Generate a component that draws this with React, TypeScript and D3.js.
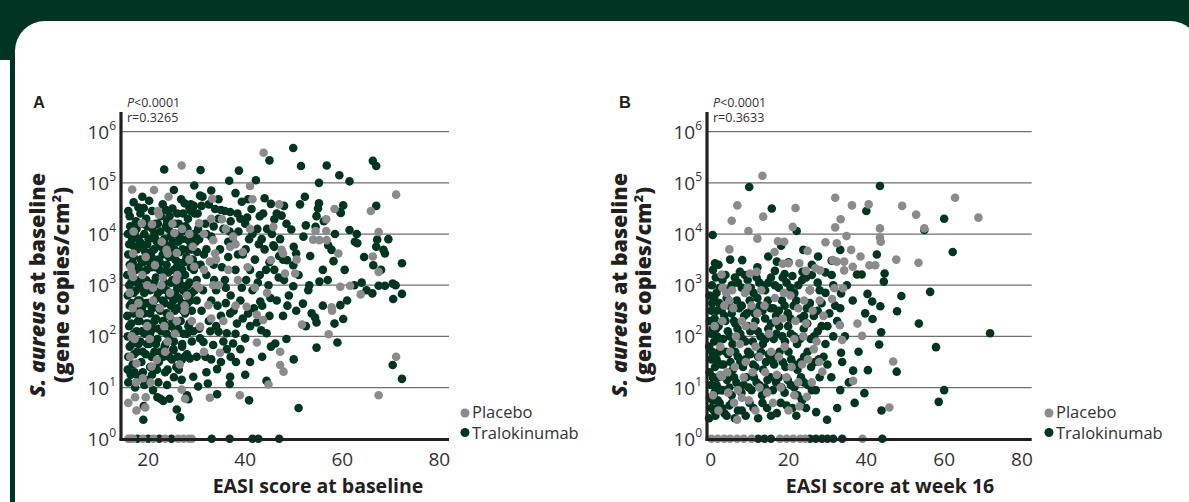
import React from "react";
import * as d3 from "d3";

const W = 1189;
const H = 502;
const DARK = "#00351f";
const GRAY = "#8b8b8d";
const INK = "#231f20";
const FONT = "'Open Sans', Lato, sans-serif";

// y values stored as log10(gene copies/cm²)
const yExponents = [0, 1, 2, 3, 4, 5, 6];
const xTicksA = [20, 40, 60, 80];
const xTicksB = [0, 20, 40, 60, 80];
const legendLabels = ["Placebo", "Tralokinumab"];

// Panel A: EASI at baseline vs log10 S. aureus at baseline
const aTralokinumab: [number, number][] = [
  [49.9,5.68],[45.0,5.44],[51.5,5.33],[56.8,5.34],[59.4,5.15],[61.5,5.03],[66.3,5.43],[67.0,5.33],[23.3,5.26],[30.8,5.25],[38.7,5.24],[36.7,5.04],[42.2,5.05],[55.2,5.0],[25.3,4.86],[18.8,4.73],[30.7,4.75],[31.2,4.73],[34.5,4.68],[39.3,4.63],[40.6,4.68],[52.3,4.73],[51.3,4.58],[55.2,4.60],[60.2,4.56],[67.0,4.55],[45.3,4.59],[19.1,4.51],[23.7,4.47],[28.8,4.58],[28.5,4.51],[29.6,4.40],[32.5,4.58],[33.8,4.49],[35.0,4.47],[36.9,4.43],[38.4,4.40],[41.3,4.49],[40.4,4.32],[43.7,4.40],[46.0,4.29],[47.5,4.36],[54.7,4.35],[56.2,4.25],[59.6,4.43],[61.5,4.08],[52.5,4.17],[54.5,4.14],[49.5,4.09],[67.2,3.89],[67.0,3.75],[68.5,3.69],[68.8,3.62],[72.3,3.43],[66.4,3.39],[62.6,3.85],[63.1,3.82],[59.7,4.41],[57.1,3.78],[57.8,3.69],[58.2,3.47],[53.4,3.57],[50.5,3.62],[49.9,3.39],[48.6,3.49],[47.0,3.57],[45.8,3.78],
  [19.0,0.37],[26.6,0.42],[25.9,0.57],[19.1,0.64],[21.9,0.81],[22.5,0.78],[23.1,0.74],[24.4,0.78],[28.3,0.77],[28.0,0.85],[34.2,0.87],[40.8,0.75],[51.0,0.60],[17.3,1.0],[22.1,1.10],[23.9,1.05],[26.9,1.15],[29.3,1.21],[30.3,1.02],[32.3,1.08],[36.9,1.21],[36.8,1.07],[44.4,1.13],[34.2,1.36],[38.1,1.50],[40.0,1.96],[54.7,1.78],[59.0,1.88],[58.4,2.25],[60.2,2.34],[59.6,2.61],[53.7,2.45],[54.4,2.37],[54.7,2.27],[51.9,2.64],[70.4,1.44],[72.3,1.17],[70.5,2.73],[72.3,2.83],[70.4,3.03],[67.5,2.99],[68.8,2.99],[66.2,2.84],[64.0,3.05],[53.2,3.0],[55.3,3.07],[49.9,2.98],[46.2,1.86],[45.3,1.80],[44.4,2.06],[43.3,2.12],[42.4,2.27],[37.5,1.86],[36.2,2.06],[34.5,2.09],[33.4,1.83],[38.3,2.25],[40.6,2.45],[43.1,2.68],[36.9,2.45],[31.4,1.89],[30.7,1.96],[28.6,1.57],[25.2,1.73],[26.9,1.54],
  [30.5,3.9],[31.5,3.6],[32.0,3.2],[33.0,3.95],[33.5,3.4],[34.0,2.9],[34.8,3.7],[35.5,4.1],[35.8,3.1],[36.5,3.55],[37.0,2.8],[37.5,3.85],[38.0,3.3],[38.6,4.05],[39.0,2.7],[39.5,3.6],[40.2,3.1],[40.8,3.9],[41.5,2.9],[42.0,3.5],[42.5,4.1],[43.0,3.2],[43.5,2.6],[44.0,3.7],[44.8,3.0],[45.5,4.0],[46.0,3.3],[46.5,2.7],[47.2,3.9],[48.0,3.1],[48.5,4.2],[49.0,2.8],[50.0,3.75],[51.0,3.2],[52.0,3.95],[53.0,2.9],[31.0,2.5],[32.5,2.3],[33.0,2.7],[35.0,2.4],[36.0,2.65],[39.5,2.35],[41.0,2.2],[34.5,4.3],[31.8,4.2],[37.0,4.25],[40.0,4.2],[42.8,3.8],[45.0,3.45],[47.8,2.4],[50.5,2.5],[52.5,2.2],[56.0,2.6],[57.0,3.1],[60.5,3.3],[61.0,2.7],[62.5,3.0],[63.0,4.0],[65.0,2.9],[68.0,3.3],[69.5,3.9],[71.0,3.0],[64.5,3.55],[58.5,4.0],[56.0,3.3],[55.0,4.5],[48.0,4.55],[44.0,4.7],[38.0,4.8],[33.0,4.85],[29.5,4.95],[27.5,4.6],[26.0,4.4],[43.5,1.6],[41.0,1.5],[39.0,1.75],[37.0,1.6],[35.5,1.9],[33.0,1.55],[32.0,1.3],[30.0,1.6],[29.0,1.9],[40.0,1.25],[45.0,2.4],[48.5,1.95],[50.0,1.55],
  [30.8,3.4],[31.3,2.9],[32.0,3.7],[32.8,2.1],[33.6,3.1],[34.3,2.6],[35.2,3.35],[36.0,2.95],[36.8,4.05],[37.6,2.5],[38.5,3.6],[39.3,2.95],[40.1,3.7],[41.0,3.3],[41.8,2.55],[42.6,3.05],[43.4,3.9],[44.3,3.3],[45.2,2.75],[46.0,3.75],[46.9,3.15],[47.8,3.5],[48.7,2.6],[30.5,2.15],[31.8,1.6],[34.0,2.2],[35.0,1.5],[36.2,1.75],[38.0,2.05],[30.2,4.4],[31.0,4.55],[32.0,4.0],[33.5,4.15],[35.8,4.45],[36.5,3.85],[39.0,4.3],[41.5,4.0],[43.0,4.35],[44.5,4.1],[46.5,4.4],
  [16.2,4.35],[17.5,4.25],[18.4,4.4],[19.6,4.3],[20.8,4.45],[21.5,4.2],[22.6,4.35],[23.9,4.25],[25.0,4.5],[26.3,4.2],[27.2,4.4],[28.2,4.3],[29.4,4.55],[17.0,4.62],
  [15.9,4.45],[18.0,4.52],[20.2,4.65],[23.0,4.58],[24.4,4.35],[26.8,4.68],[28.8,4.45],
  [15.8,4.0],[16.7,3.9],[17.6,4.1],[18.3,3.85],[19.2,4.0],[20.1,3.9],[20.9,4.1],[21.8,3.85],[22.5,4.05],[23.3,3.9],[24.2,4.1],[25.1,3.85],[25.9,4.0],[26.8,3.9],[27.7,4.15],[28.6,3.85],[29.5,4.0],[22.0,4.2],
  [16.3,4.15],[17.2,4.0],[18.9,4.2],[19.8,4.15],[21.3,4.0],[23.7,4.15],[24.6,3.95],[25.5,4.2],[27.0,4.05],[28.1,4.1],[29.0,3.95],[30.3,4.1],
  [15.9,3.6],[16.8,3.45],[17.7,3.7],[18.5,3.5],[19.4,3.65],[20.3,3.45],[21.2,3.7],[22.1,3.5],[23.0,3.6],[23.8,3.4],[24.7,3.75],[25.6,3.5],[26.5,3.65],[27.4,3.45],[28.3,3.7],[29.2,3.5],[30.1,3.65],
  [16.1,3.8],[17.1,3.75],[18.0,3.9],[18.9,3.75],[19.8,3.8],[20.6,3.65],[21.5,3.9],[22.6,3.75],[23.5,3.8],[24.4,3.6],[25.4,3.7],[26.2,3.85],[27.1,3.7],[28.0,3.9],[28.9,3.7],[29.8,3.85],
  [15.7,3.2],[16.5,3.05],[17.4,3.3],[18.2,3.1],[19.0,3.25],[19.9,3.05],[20.7,3.35],[21.6,3.15],[22.4,3.3],[23.3,3.05],[24.1,3.25],[25.0,3.1],[25.9,3.35],[26.8,3.0],[27.6,3.2],[28.5,3.05],[29.4,3.3],
  [16.2,3.4],[17.0,3.55],[18.0,3.35],[18.9,3.45],[19.7,3.3],[20.7,3.55],[21.5,3.35],[22.4,3.45],[23.4,3.25],[24.3,3.55],[25.3,3.3],[26.1,3.45],[27.0,3.3],[27.9,3.55],[28.8,3.35],[29.8,3.4],
  [15.8,2.8],[16.6,2.65],[17.5,2.9],[18.3,2.7],[19.2,2.85],[20.0,2.65],[20.9,2.95],[21.7,2.75],[22.6,2.9],[23.4,2.65],[24.3,2.8],[25.2,2.7],[26.0,2.95],[26.9,2.65],[27.8,2.85],[28.7,2.7],[29.6,2.9],
  [16.1,3.0],[17.0,2.85],[17.9,3.05],[18.7,2.95],[19.6,3.1],[20.4,2.9],[21.3,3.05],[22.0,2.85],[23.0,3.0],[23.8,2.9],[24.7,3.05],[25.6,2.85],[26.4,3.1],[27.2,2.9],[28.1,3.0],[29.0,2.85],[30.0,3.1],
  [15.7,2.4],[16.5,2.25],[17.4,2.5],[18.2,2.3],[19.1,2.45],[19.9,2.25],[20.8,2.55],[21.6,2.35],[22.5,2.5],[23.3,2.25],[24.2,2.4],[25.0,2.3],[25.9,2.55],[26.7,2.3],[27.6,2.45],[28.5,2.25],
  [16.2,2.6],[17.0,2.45],[17.9,2.7],[18.7,2.55],[19.6,2.65],[20.4,2.45],[21.2,2.7],[22.1,2.55],[23.0,2.7],[23.8,2.45],[24.7,2.6],[25.5,2.5],[26.3,2.75],[27.2,2.5],[28.1,2.65],[29.0,2.5],[30.0,2.7],
  [15.8,2.0],[16.7,1.85],[17.6,2.1],[18.4,1.9],[19.3,2.05],[20.2,1.85],[21.0,2.15],[21.9,1.95],[22.7,2.1],[23.6,1.85],[24.4,2.0],[25.3,1.9],[26.2,2.15],[27.0,1.85],[28.0,2.05],
  [16.1,2.2],[17.0,2.05],[17.9,2.3],[18.7,2.1],[19.6,2.25],[20.4,2.05],[21.3,2.3],[22.1,2.15],[23.0,2.3],[23.8,2.05],[24.7,2.2],[25.6,2.1],[26.5,2.3],[27.3,2.05],[28.3,2.2],[29.3,2.1],
  [15.9,1.6],[16.8,1.45],[17.7,1.7],[18.6,1.5],[19.5,1.65],[20.4,1.4],[21.3,1.7],[22.2,1.5],[23.1,1.6],[24.0,1.35],[24.9,1.55],[25.8,1.4],[16.4,1.25],[18.0,1.2],[20.0,1.15],[27.5,1.6],
  [16.2,1.8],[17.1,1.65],[18.0,1.85],[18.9,1.7],[19.8,1.85],[20.7,1.6],[21.6,1.85],[22.5,1.7],[23.4,1.8],[24.3,1.6],[25.2,1.75],[26.1,1.6],[27.0,1.8],[28.0,1.65],
  [15.8,1.35],[17.2,1.3],[18.9,1.3],[20.8,1.25],[21.8,1.35],[23.5,1.3],[25.3,1.2],[26.3,1.35],[15.9,1.1],[19.2,1.05],[21.0,0.95],
  [17.8,0],[20.0,0],[22.3,0],[24.8,0],[33.1,0],[36.8,0],[41.5,0],[42.7,0],[47.0,0]
];

const aPlacebo: [number, number][] = [
  [43.8,5.59],[26.9,5.34],[16.7,4.87],[21.2,4.86],[24.2,4.73],[71.1,4.77],[41.0,4.94],[41.5,4.68],[33.2,4.69],[47.0,4.58],[58.4,4.49],[65.9,4.45],[56.7,4.29],[54.5,4.06],[56.7,4.06],[54.0,3.89],[55.3,3.88],[56.8,3.88],[67.5,4.04],[66.3,3.56],[59.2,3.62],[67.5,3.26],[45.8,4.14],[41.0,4.10],[35.2,4.29],[33.0,4.30],[30.5,4.21],[25.4,4.02],[22.2,4.38],[20.8,4.19],[18.7,4.21],[23.8,3.69],[24.0,3.62],[25.9,3.63],[33.4,3.88],[37.5,3.95],[36.9,3.75],[33.8,3.62],[32.7,3.46],[47.5,3.69],[47.8,3.62],[50.6,3.50],[45.3,3.49],[16.9,3.62],[16.4,3.36],[16.9,3.16],[21.4,3.39],[29.5,3.36],[48.2,3.23],[50.3,3.23],
  [67.5,0.85],[71.1,1.60],[38.9,0.85],[32.7,0.80],[27.6,0.78],[19.4,0.61],[17.6,0.55],[15.9,0.70],[17.3,0.81],[19.5,0.81],[18.9,1.18],[26.9,0.96],[44.8,1.06],[47.2,1.44],[47.9,1.31],[47.2,1.70],[57.2,2.04],[51.7,2.23],[61.6,2.99],[63.8,2.82],[57.8,2.57],[57.9,2.5],[59.6,2.97],[43.7,2.32],[42.4,2.42],[40.3,2.58],[38.0,2.6],[42.4,1.88],[34.8,1.68],[31.5,1.70],[30.7,2.19],[32.4,2.61],[33.4,3.0],[34.5,3.0],[30.5,2.95],[27.5,2.5],[27.5,2.6],[25.9,2.3],[25.5,2.05],[24.0,1.9],[21.8,1.54],[20.7,1.41],[17.6,1.47],[16.3,1.60],[16.6,2.0],[17.2,1.95],[16.8,2.55],[18.0,2.65],[18.8,3.2],[16.6,3.25],[23.0,3.15],[22.7,3.0],[22.4,2.55],[24.5,2.85],[26.0,3.2],[28.5,3.5],[19.8,2.2],[21.0,2.7],[23.3,2.2],[29.0,2.3],[35.5,2.3],[36.5,3.3],[38.5,3.1],[40.5,3.35],[42.0,2.95],[44.5,2.85],[39.5,3.65],[31.5,3.3],
  [17.0,4.05],[19.5,3.55],[21.0,2.95],[22.8,3.85],[24.5,2.4],[25.8,3.1],[27.0,4.1],[28.0,2.8],[29.2,3.75],[18.3,2.45],[20.3,1.95],[23.5,1.7],[26.5,1.45],[17.5,1.1],[19.8,3.0],[25.0,4.2],[22.0,4.45],[28.5,4.0],[30.0,3.0],[31.5,4.0],[33.0,2.35],[34.0,3.5],[36.0,4.1],[38.0,3.8],[20.5,1.1],[16.2,2.85],
  [15.9,0],[16.4,0],[16.9,0],[18.9,0],[21.1,0],[23.5,0],[26.2,0],[27.3,0],[28.4,0],[29.0,0]
];

// Panel B: EASI at week 16 vs log10 S. aureus at baseline
const bTralokinumab: [number, number][] = [
  [9.9,4.92],[15.7,4.50],[22.1,4.06],[0.5,3.98],[1.1,3.43],[8.1,3.49],[14.8,3.56],[18.1,3.77],[23.8,3.69],[27.6,3.56],[33.3,3.69],[31.1,3.48],[17.0,3.46],[7.5,3.26],[16.5,3.28],[23.6,3.26],[31.1,3.20],[37.6,3.21],[38.8,3.21],[42.7,3.60],[40.0,4.45],[43.5,4.94],[60.0,4.30],[62.2,3.65],[54.9,4.08],[44.7,3.23],[19.0,3.22],[21.0,3.18],
  [71.8,2.06],[57.9,1.79],[60.0,0.95],[58.6,0.72],[53.5,2.25],[56.4,2.87],[47.9,2.49],[49.0,2.79],[44.5,3.07],[40.3,2.83],[41.5,2.68],[43.6,2.59],[39.7,2.45],[41.6,2.34],[43.8,2.08],[43.3,1.84],[47.8,1.31],[40.4,1.34],[39.5,0.89],[43.9,0.55],[36.6,1.33],[33.5,1.68],[33.8,1.50],[33.3,0.95],[29.9,0.37],[27.1,0.52],[33.3,2.55],[33.5,2.84],
  [0.3,3.0],[1.5,2.85],[3.0,3.1],[4.5,2.9],[6.2,3.15],[8.0,2.95],[9.5,3.1],[11.0,2.85],[12.5,3.05],[14.0,2.9],[15.5,3.15],[17.5,2.95],[19.5,3.05],[21.5,2.85],[23.5,3.1],[25.5,2.9],[27.5,3.05],[29.5,2.85],[31.5,3.0],
  [2.3,2.95],[3.8,3.2],[5.4,3.0],[7.0,3.05],[8.8,3.2],[10.3,2.95],[11.8,3.15],[13.3,3.0],[14.8,3.05],[16.5,3.0],[18.5,3.15],[20.5,2.95],[22.5,3.0],[24.5,3.15],
  [0.2,2.5],[1.0,2.35],[2.2,2.65],[3.5,2.4],[4.8,2.6],[6.0,2.3],[7.3,2.55],[8.6,2.4],[10.0,2.7],[11.3,2.45],[12.6,2.6],[14.0,2.35],[15.4,2.55],[16.8,2.4],[18.3,2.7],[19.8,2.45],[21.3,2.6],[23.0,2.35],[24.7,2.55],[26.5,2.4],[28.5,2.65],[30.5,2.45],[32.5,2.3],
  [0.9,2.75],[2.8,2.5],[4.1,2.75],[5.4,2.45],[6.7,2.7],[8.0,2.6],[9.3,2.45],[10.6,2.55],[12.0,2.75],[13.3,2.5],[14.7,2.7],[16.1,2.55],[17.5,2.5],[19.0,2.6],[20.5,2.35],[22.0,2.7],[24.0,2.4],[25.5,2.65],[27.5,2.5],
  [0.1,2.05],[0.9,1.9],[2.0,2.2],[3.2,1.95],[4.4,2.1],[5.6,1.85],[6.9,2.15],[8.2,1.95],[9.5,2.2],[10.8,1.9],[12.1,2.1],[13.4,1.85],[14.8,2.15],[16.2,1.95],[17.6,2.2],[19.1,1.9],[20.6,2.05],[22.2,1.85],[23.9,2.15],[25.7,1.95],[27.5,2.1],[29.5,1.85],[31.5,2.0],
  [1.4,2.15],[2.6,1.95],[3.8,2.3],[5.0,2.0],[6.3,2.25],[7.6,2.05],[8.9,1.9],[10.2,2.1],[11.5,2.3],[12.8,2.0],[14.1,1.95],[15.5,2.25],[16.9,2.05],[18.4,2.0],[19.9,2.2],[21.4,2.0],[23.0,1.95],[24.8,2.25],[26.6,2.0],[28.5,2.2],
  [0.2,1.55],[1.1,1.4],[2.1,1.7],[3.3,1.45],[4.5,1.65],[5.7,1.35],[7.0,1.6],[8.3,1.4],[9.6,1.7],[10.9,1.45],[12.2,1.6],[13.5,1.35],[14.9,1.65],[16.3,1.45],[17.7,1.7],[19.2,1.4],[20.7,1.55],[22.3,1.35],[24.0,1.6],[25.8,1.4],[27.8,1.55],[30.0,1.45],
  [0.7,1.65],[1.6,1.5],[2.7,1.45],[3.9,1.7],[5.1,1.5],[6.3,1.7],[7.6,1.5],[8.9,1.55],[10.2,1.65],[11.5,1.4],[12.9,1.7],[14.2,1.5],[15.6,1.55],[17.0,1.6],[18.5,1.5],[20.0,1.7],[21.5,1.45],[23.1,1.5],[24.9,1.7],[26.8,1.5],
  [0.1,1.05],[1.0,0.9],[2.0,1.2],[3.1,0.95],[4.2,1.15],[5.4,0.85],[6.6,1.1],[7.9,0.9],[9.2,1.2],[10.5,0.95],[11.8,1.1],[13.2,0.85],[14.6,1.15],[16.0,0.95],[17.5,1.2],[19.0,0.9],[20.6,1.05],[22.3,0.85],[24.0,1.1],[26.0,0.95],[28.0,1.2],
  [0.6,1.2],[1.5,1.05],[2.6,0.95],[3.7,1.2],[4.8,1.0],[6.0,1.2],[7.2,1.0],[8.5,1.05],[9.8,1.0],[11.1,1.2],[12.5,1.05],[13.9,1.0],[15.3,1.2],[16.8,1.1],[18.2,1.0],[19.8,1.15],[21.5,1.0],[23.2,1.2],[25.0,1.05],[27.0,0.95],
  [0.2,0.6],[1.2,0.45],[2.3,0.7],[3.5,0.5],[4.8,0.65],[6.2,0.4],[8.0,0.55],[10.0,0.7],[12.2,0.4],[14.5,0.6],[17.0,0.5],[19.5,0.65],[22.0,0.45],[24.5,0.6],
  [0.8,0.55],[1.8,0.75],[2.9,0.6],[4.1,0.45],[5.5,0.7],[7.0,0.55],[9.0,0.45],[11.0,0.6],[13.3,0.7],[15.5,0.45],[18.0,0.7],[21.0,0.6],[23.5,0.75],
  [-0.3,2.8],[-0.2,2.3],[-0.4,1.8],[-0.3,1.3],[-0.2,0.8],[-0.4,0.4],[0.4,2.65],[0.5,2.15],[0.4,1.7],[0.6,1.2],[0.5,0.75],[0.6,3.3],[1.3,3.15],[1.5,2.5],[1.6,2.0],[1.5,1.55],[1.7,1.0],[1.6,0.6],
  [28.0,2.9],[29.0,1.6],[30.0,2.2],[31.0,1.2],[32.0,2.6],[34.5,2.0],[35.5,1.1],[36.5,2.7],[38.0,1.7],[37.0,0.7],[32.5,0.6],[35.0,3.0],[29.5,3.25],[26.0,3.2],
  [2.0,3.4],[5.0,3.5],[12.0,3.35],[20.0,3.45],[26.0,3.4],
  [12.2,0],[13.8,0],[15.5,0],[25.5,0],[27.0,0],[28.6,0],[30.0,0],[31.5,0],[33.8,0],[44.1,0]
];

const bPlacebo: [number, number][] = [
  [13.3,5.14],[6.85,4.56],[5.4,4.26],[4.8,3.70],[9.7,4.06],[12.0,3.91],[13.5,4.34],[21.1,4.14],[21.8,4.51],[32.0,4.71],[36.3,4.56],[40.6,4.58],[33.4,4.29],[32.0,4.13],[34.9,3.96],[32.4,3.82],[29.5,3.84],[24.9,3.67],[17.3,3.86],[18.9,3.85],[16.4,3.65],[43.5,4.11],[43.5,3.93],[43.7,3.85],[49.2,4.55],[52.8,4.38],[54.9,4.11],[62.8,4.71],[68.8,4.32],[47.7,3.50],[53.4,3.44],[40.8,3.39],[42.3,3.39],[38.5,3.56],[36.1,3.69],[34.3,3.46],[34.3,3.29],[36.5,3.36],[32.4,3.46],[31.4,3.49],[22.8,3.43],[18.5,3.42],[20.0,3.43],[2.8,3.21],[10.1,3.23],[11.8,3.26],[26.9,3.33],[28.1,3.29],[24.5,3.28],
  [45.9,0.61],[46.9,1.51],[36.6,1.13],[38.9,2.01],[37.7,2.25],[33.2,2.22],[33.8,1.93],[31.2,2.73],[31.8,2.94],[34.0,2.94],[27.9,1.50],[28.7,1.31],[22.8,0.63],[24.7,0.82],[21.5,0.85],[6.8,0.37],[0.6,0.85],[2.9,1.21],[2.5,1.25],[5.5,2.9],[4.0,2.85],[4.8,2.7],[3.5,2.6],
  [8.0,2.3],[9.0,1.5],[10.5,2.6],[11.5,1.8],[13.0,2.9],[14.0,1.3],[15.0,2.05],[16.5,2.75],[17.5,1.6],[18.5,2.35],[19.5,1.2],[20.5,2.8],[21.5,1.95],[22.5,2.55],[23.5,1.45],[24.5,2.25],[25.5,2.9],[26.5,1.75],[7.0,0.95],[5.0,1.7],[9.8,0.75],[12.5,1.0],[16.0,0.7],[18.0,1.0],[20.0,0.55],[26.0,1.1],[29.0,2.4],[6.5,2.0],[8.8,2.85],[12.0,2.45],
  [1.0,2.2],[2.5,1.8],[3.0,2.95],[4.2,1.3],[5.8,2.55],[6.0,0.7],[7.5,1.85],[8.5,1.2],[9.5,2.95],[10.8,1.3],[11.0,2.2],[12.5,1.6],[13.8,2.6],[14.5,0.9],[15.5,1.7],[16.8,2.3],[17.0,1.25],[18.8,2.85],[19.0,1.8],[20.8,1.4],[21.8,2.3],[22.5,1.1],[23.8,2.0],[24.0,2.7],[25.0,1.55],[26.2,2.5],[27.2,1.9],[28.0,2.7],[2.0,0.55],[4.5,0.9],[8.0,0.8],[11.5,0.55],[3.0,2.3],[6.2,1.4],[9.0,2.2],
  [0.2,0],[1.8,0],[3.5,0],[5.0,0],[6.8,0],[8.5,0],[10.5,0],[17.8,0],[19.5,0],[21.2,0],[23.0,0],[24.3,0],[39.0,0]
];

type PanelProps = {
  letter: string;
  xDomain: [number, number];
  x0: number;
  x1: number;
  xTicks: number[];
  xTitle: string;
  xTitleX: number;
  yTitleX: number;
  rText: string;
  tralo: [number, number][];
  placebo: [number, number][];
  legendX: number;
};

const yScale = d3.scaleLinear().domain([0, 6]).range([438.7, 131.7]);

function Panel(p: PanelProps) {
  const x = d3.scaleLinear().domain(p.xDomain).range([p.x0, p.x1]);
  const r = 4.3;
  return (
    <g>
      <text x={p.x0 - 88} y={108} fontFamily="Arial, 'Liberation Sans', sans-serif" fontWeight={700} fontSize={16.5} fill={INK}>{p.letter}</text>
      <text x={p.x0 + 6} y={106.5} fontFamily={FONT} fontSize={12.5} fill="#333">
        <tspan fontStyle="italic">P</tspan>&lt;0.0001
      </text>
      <text x={p.x0 + 6} y={121.5} fontFamily={FONT} fontSize={12.5} fill="#333">{p.rText}</text>
      {yExponents.slice(1).map((e) => (
        <line key={e} x1={p.x0} x2={p.x1} y1={yScale(e)} y2={yScale(e)} stroke="#6f6f6f" strokeWidth={1.3} />
      ))}
      {yExponents.map((e) => (
        <text key={"t" + e} x={p.x0 - 5} y={yScale(e) + 7} textAnchor="end" fontFamily={FONT} fontSize={19} fill="#333">
          10<tspan dy={-9} fontSize={12}>{e}</tspan>
        </text>
      ))}
      {p.tralo.map((d, i) => (
        <circle key={"d" + i} cx={x(d[0])} cy={yScale(d[1])} r={r} fill={DARK} />
      ))}
      {p.placebo.map((d, i) => (
        <circle key={"g" + i} cx={x(d[0])} cy={yScale(d[1])} r={r} fill={GRAY} />
      ))}
      <line x1={p.x0} x2={p.x0} y1={112} y2={440.5} stroke={INK} strokeWidth={3.2} />
      <line x1={p.x0 - 1.5} x2={p.x1} y1={439.5} y2={439.5} stroke={INK} strokeWidth={3} />
      {p.xTicks.map((t) => (
        <text key={"x" + t} x={x(t)} y={466} textAnchor="middle" fontFamily={FONT} fontSize={19} fill="#333">{t}</text>
      ))}
      <text x={p.xTitleX} y={492.5} textAnchor="middle" fontFamily={FONT} fontWeight={700} fontSize={19.5} fill={INK}>{p.xTitle}</text>
      <text transform={`translate(${p.yTitleX},285) rotate(-90)`} textAnchor="middle" fontFamily={FONT} fontWeight={800} fontSize={21.5} fill={INK}>
        <tspan fontStyle="italic">S. aureus</tspan> at baseline
      </text>
      <text transform={`translate(${p.yTitleX + 24},285) rotate(-90)`} textAnchor="middle" fontFamily={FONT} fontWeight={800} fontSize={21.5} fill={INK}>
        (gene copies/cm<tspan dy={-8} fontSize={13}>2</tspan><tspan dy={8}>)</tspan>
      </text>
      <circle cx={p.legendX} cy={413} r={4.5} fill={GRAY} />
      <text x={p.legendX + 7} y={418} fontFamily={FONT} fontSize={16.5} fill="#333">{legendLabels[0]}</text>
      <circle cx={p.legendX} cy={432.5} r={4.5} fill={DARK} />
      <text x={p.legendX + 7} y={438.5} fontFamily={FONT} fontSize={16.5} fill="#333">{legendLabels[1]}</text>
    </g>
  );
}

export default function App() {
  return (
    <div style={{ position: "absolute", left: 0, top: 0, width: W, height: H }}>
      <svg width={W} height={H} viewBox={`0 0 ${W} ${H}`} style={{ display: "block" }}>
        <rect x={0} y={0} width={W} height={H} fill="#ffffff" />
        <rect x={0} y={0} width={W} height={50} fill="#013423" />
        <rect x={0} y={0} width={15} height={60} fill="#013423" />
        <rect x={10} y={0} width={5} height={H} fill="#013423" />
        <rect x={15} y={21} width={1185} height={600} rx={30} ry={30} fill="#ffffff" />
        <Panel
          letter="A"
          xDomain={[14.4, 82]}
          x0={121}
          x1={449}
          xTicks={xTicksA}
          xTitle="EASI score at baseline"
          xTitleX={318}
          yTitleX={45}
          rText="r=0.3265"
          tralo={aTralokinumab}
          placebo={aPlacebo}
          legendX={465}
        />
        <Panel
          letter="B"
          xDomain={[-0.95, 82.5]}
          x0={707}
          x1={1031.7}
          xTicks={xTicksB}
          xTitle="EASI score at week 16"
          xTitleX={890}
          yTitleX={627}
          rText="r=0.3633"
          tralo={bTralokinumab}
          placebo={bPlacebo}
          legendX={1049}
        />
      </svg>
    </div>
  );
}
